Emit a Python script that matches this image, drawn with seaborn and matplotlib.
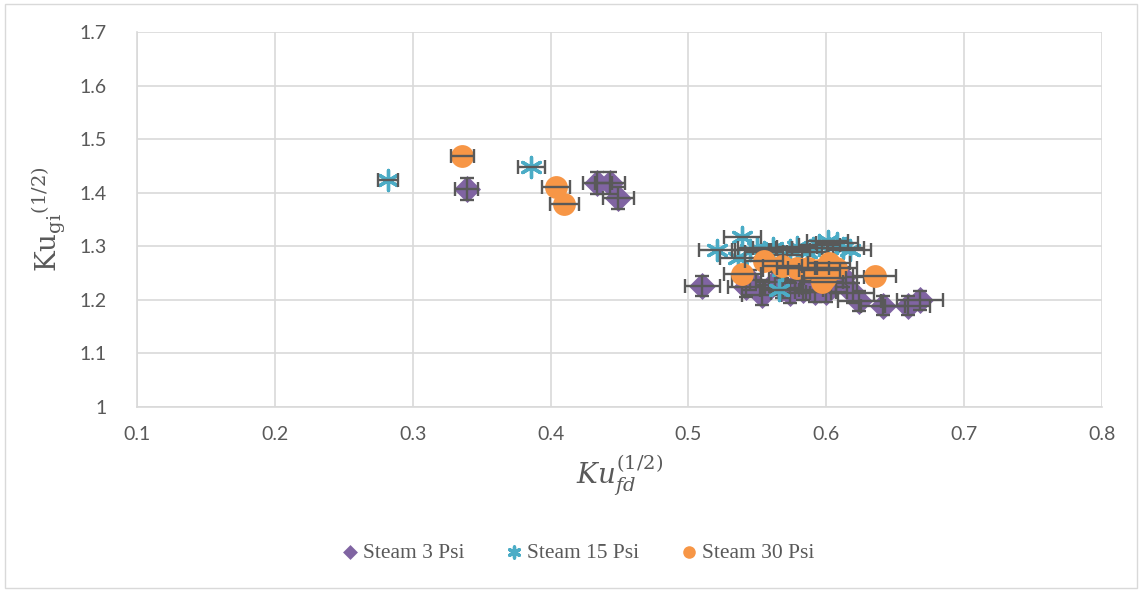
import matplotlib
matplotlib.use("Agg")
import matplotlib.pyplot as plt
from matplotlib.patches import Rectangle
import seaborn as sns
import numpy as np
import pandas as pd

# Kurtosis ratios for three steam pressures
steam3_x = [0.339, 0.434, 0.443, 0.449, 0.510, 0.542, 0.545, 0.553, 0.563, 0.568,
            0.574, 0.581, 0.583, 0.592, 0.600, 0.607, 0.612, 0.619, 0.624, 0.641,
            0.659, 0.668]
steam3_y = [1.407, 1.418, 1.418, 1.390, 1.226, 1.224, 1.237, 1.209, 1.233, 1.222,
            1.213, 1.237, 1.218, 1.215, 1.215, 1.231, 1.243, 1.213, 1.198, 1.189,
            1.189, 1.199]

steam15_x = [0.282, 0.386, 0.521, 0.539, 0.536, 0.545, 0.550, 0.555, 0.561, 0.568,
             0.574, 0.579, 0.586, 0.590, 0.595, 0.601, 0.608, 0.612, 0.617, 0.566,
             0.568]
steam15_y = [1.424, 1.448, 1.293, 1.317, 1.278, 1.293, 1.297, 1.289, 1.297, 1.284,
             1.293, 1.299, 1.289, 1.297, 1.302, 1.310, 1.306, 1.297, 1.293, 1.218,
             1.256]

steam30_x = [0.336, 0.404, 0.410, 0.539, 0.555, 0.568, 0.579, 0.587, 0.595, 0.599,
             0.602, 0.607, 0.597, 0.635]
steam30_y = [1.469, 1.411, 1.378, 1.249, 1.273, 1.263, 1.260, 1.260, 1.256, 1.240,
             1.269, 1.260, 1.233, 1.244]

x_ticks = [0.1, 0.2, 0.3, 0.4, 0.5, 0.6, 0.7, 0.8]
y_ticks = [1.0, 1.1, 1.2, 1.3, 1.4, 1.5, 1.6, 1.7]

series = [
    ("Steam 3 Psi", steam3_x, steam3_y, "#8064A2", "D"),
    ("Steam 15 Psi", steam15_x, steam15_y, "#4BACC6", (6, 2, 0)),
    ("Steam 30 Psi", steam30_x, steam30_y, "#F79646", "o"),
]

sns.set_theme(style="white")
plt.rcParams["font.family"] = ["Lato", "DejaVu Sans"]
plt.rcParams["mathtext.fontset"] = "dejavuserif"

fig = plt.figure(figsize=(11.42, 5.92), dpi=100)
ax = fig.add_axes([0.12, 0.3125, 0.845, 0.6335])

# thin frame around the whole chart
fig.patches.append(Rectangle((0.004, 0.006), 0.992, 0.988, transform=fig.transFigure,
                             fill=False, edgecolor="#d9d9d9", linewidth=1.0))

err_col = "#595959"
for i, (name, xs, ys, col, mk) in enumerate(series):
    xs = np.array(xs)
    ys = np.array(ys)
    df = pd.DataFrame({"x": xs, "y": ys})
    z = 3 + 2 * i
    if mk == "D":
        sns.scatterplot(data=df, x="x", y="y", ax=ax, marker="D", s=190, color=col,
                        edgecolor=col, linewidth=0, label=name, zorder=z)
        yerr = 0.015 * ys
    elif mk == "o":
        sns.scatterplot(data=df, x="x", y="y", ax=ax, marker="o", s=270, color=col,
                        edgecolor=col, linewidth=0, label=name, zorder=z)
        yerr = None
    else:
        sns.scatterplot(data=df, x="x", y="y", ax=ax, marker=mk, s=210, color=col,
                        linewidth=2.4, label=name, zorder=z)
        yerr = None
    ax.errorbar(xs, ys, xerr=0.025 * xs, yerr=yerr, fmt="none", ecolor=err_col,
                elinewidth=1.7, capsize=5, capthick=1.7, zorder=z + 1)

ax.set_xlim(0.1, 0.8)
ax.set_ylim(1.0, 1.7)
ax.set_xticks(x_ticks)
ax.set_yticks(y_ticks)
ax.set_xticklabels(["0.1", "0.2", "0.3", "0.4", "0.5", "0.6", "0.7", "0.8"])
ax.set_yticklabels(["1", "1.1", "1.2", "1.3", "1.4", "1.5", "1.6", "1.7"])
ax.grid(True, color="#d9d9d9", linewidth=1.2)
ax.set_axisbelow(True)
for side in ["top", "right"]:
    ax.spines[side].set_visible(False)
for side in ["left", "bottom"]:
    ax.spines[side].set_color("#d9d9d9")
    ax.spines[side].set_linewidth(1.2)
ax.tick_params(axis="both", length=0, labelsize=14, labelcolor="#595959")
ax.tick_params(axis="x", pad=14)
ax.tick_params(axis="y", pad=22)

ax.set_xlabel(r"$Ku_{fd}^{(1/2)}$", fontsize=20, color="#595959", labelpad=6)
ax.set_ylabel(r"$\mathrm{Ku_{gi}}^{(1/2)}$", fontsize=20, color="#595959", labelpad=8)

handles, labels = ax.get_legend_handles_labels()
ax.get_legend().remove()
fig.legend(handles, labels, loc="center", bbox_to_anchor=(0.505, 0.066), ncol=3,
           frameon=False, prop={"family": "Liberation Serif", "size": 15.5},
           labelcolor="#595959", handletextpad=0.1, columnspacing=1.8,
           markerscale=0.55, handlelength=1.0)

fig.savefig("out.png", dpi=100)
